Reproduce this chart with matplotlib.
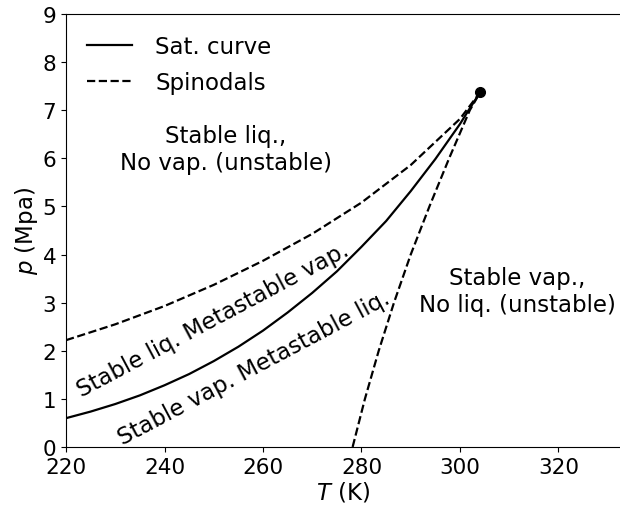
import numpy as np
import matplotlib
matplotlib.use("Agg")
import matplotlib.pyplot as plt

# CO2 saturation curve (K, MPa)
T_sat = [220, 225, 230, 235, 240, 245, 250, 255, 260, 265, 270, 275,
         280, 285, 290, 295, 300, 302, 304.13]
p_sat = [0.599, 0.736, 0.893, 1.073, 1.283, 1.516, 1.785, 2.084, 2.419,
         2.795, 3.203, 3.650, 4.161, 4.696, 5.318, 5.985, 6.713, 7.040, 7.377]

# liquid spinodal (metastable vapour limit)
T_spin_liq = [220, 230, 240, 250, 260, 270, 280, 290, 300, 304.13]
p_spin_liq = [2.22, 2.55, 2.93, 3.37, 3.87, 4.43, 5.08, 5.86, 6.82, 7.377]

# vapour spinodal (metastable liquid limit)
T_spin_vap = [278.2, 280.7, 283.5, 286.6, 290.0, 293.8, 297.8, 302.0, 304.13]
p_spin_vap = [0.0, 1.0, 2.0, 3.0, 4.0, 5.0, 6.0, 7.0, 7.377]

# critical point
T_crit = 304.13
p_crit = 7.377

FS = 16.5

fig = plt.figure(figsize=(6.2, 5.1), dpi=100)
ax = fig.add_axes([0.1065, 0.1216, 0.8935, 0.849])

ax.plot(T_sat, p_sat, color='black', lw=1.6, label='Sat. curve')
ax.plot(T_spin_liq, p_spin_liq, color='black', lw=1.6, ls='--', label='Spinodals')
ax.plot(T_spin_vap, p_spin_vap, color='black', lw=1.6, ls='--')
ax.plot([T_crit], [p_crit], 'o', color='black', ms=7)

ax.text(252.5, 6.2, 'Stable liq.,\nNo vap. (unstable)', ha='center', va='center',
        fontsize=FS)
ax.text(311.6, 3.24, 'Stable vap.,\nNo liq. (unstable)', ha='center', va='center',
        fontsize=FS)
ax.text(249.8, 2.66, 'Stable liq. Metastable vap.', ha='center', va='center',
        rotation=28, rotation_mode='anchor', fontsize=FS)
ax.text(258.2, 1.66, 'Stable vap. Metastable liq.', ha='center', va='center',
        rotation=28, rotation_mode='anchor', fontsize=FS)

ax.set_xlim(220, 332.5)
ax.set_ylim(0, 9)
ax.set_xticks([220, 240, 260, 280, 300, 320])
ax.set_yticks(range(0, 10))
ax.tick_params(labelsize=15.5)
ax.set_xlabel('$T$ (K)', fontsize=FS, labelpad=2)
ax.set_ylabel('$p$ (Mpa)', fontsize=FS, labelpad=2)
ax.spines['right'].set_visible(False)

ax.legend(loc='upper left', frameon=False, fontsize=FS,
          handletextpad=1.0, labelspacing=0.6)

fig.savefig('out.png', dpi=100)
